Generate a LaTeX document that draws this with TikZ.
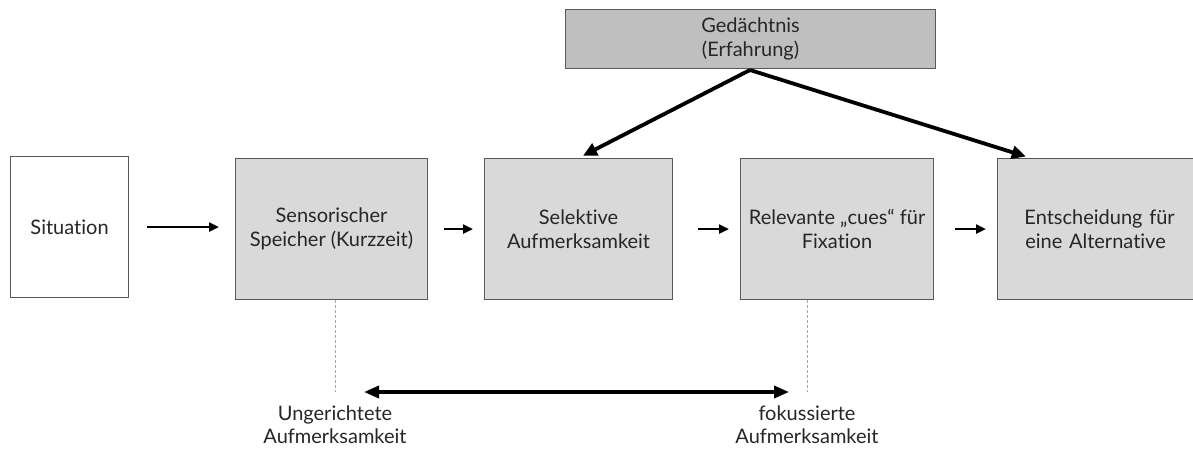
\documentclass[tikz,border=0pt]{standalone}
\usepackage{fontspec}
\setmainfont{Lato}[Ligatures=NoCommon]
\usetikzlibrary{arrows.meta}
\definecolor{boxfill}{HTML}{D9D9D9}
\definecolor{memfill}{HTML}{BFBFBF}
\definecolor{boxline}{HTML}{595959}
\definecolor{txt}{HTML}{262626}
\definecolor{guide}{HTML}{A6A6A6}
\begin{document}
\begin{tikzpicture}[x=1pt,y=-1pt,
  base/.style={draw=boxline, line width=1.1pt, align=center, inner sep=0pt,
    anchor=north west, text=txt, font=\fontsize{20}{24}\selectfont},
  stage/.style={base, fill=boxfill, minimum height=141pt},
  flow/.style={line width=2.8pt, -{Triangle[length=10pt,width=9pt]}},
  recall/.style={line width=3.8pt, -{Triangle[length=14pt,width=13pt]}},
  span/.style={line width=3.4pt, {Triangle[length=15pt,width=12pt]}-{Triangle[length=15pt,width=12pt]}},
  guideline/.style={draw=guide, line width=0.9pt, dashed, dash pattern=on 3pt off 2pt},
  caption/.style={align=center, text=txt, font=\fontsize{20}{23}\selectfont}]
\useasboundingbox (0,0) rectangle (1193,450);

% memory box on top
\node[base, fill=memfill, minimum width=370pt, minimum height=59pt] (ged) at (565,9)
  {Gedächtnis\\(Erfahrung)};

% process chain
\node[base, fill=white, minimum width=118pt, minimum height=141pt] (sit) at (10,156) {Situation};
\node[stage, minimum width=192pt] (sen) at (235,158) {Sensorischer\\Speicher (Kurzzeit)};
\node[stage, minimum width=188pt] (sel) at (484,158) {Selektive\\Aufmerksamkeit};
\node[stage, minimum width=193pt] (rel) at (740,158) {Relevante „cues“ für\\Fixation};
\node[stage, minimum width=204pt, text width=196pt] (ent) at (997,158) {Entscheidung für\\eine Alternative\hspace*{8pt}};

\draw[flow, shorten <=18pt, shorten >=16pt] (sit) -- (sit -| sen.west);
\draw[flow, shorten <=16pt, shorten >=11pt] (sen.east) -- (sel.west);
\draw[flow, shorten <=25pt, shorten >=11pt] (sel.east) -- (rel.west);
\draw[flow, shorten <=21pt, shorten >=11pt] (rel.east) -- (ent.west);

% memory feeds attention and decision
\coordinate (apex) at (750,70);
\draw[recall, shorten >=5pt] (apex) -- (sel.north);
\draw[recall, shorten >=5pt] (apex) -- ([xshift=-69pt]ent.north);

% attention range
\node[caption, anchor=north] (ung) at (335,402) {Ungerichtete\\Aufmerksamkeit};
\node[caption, anchor=north] (fok) at (807,402) {fokussierte\\Aufmerksamkeit};
\coordinate (u) at (335,392);
\coordinate (f) at (807,392);
\draw[guideline] (sen.south -| u) -- (u);
\draw[guideline] (rel.south -| f) -- (f);
\draw[span, shorten <=29pt, shorten >=18pt] (u) -- (f);
\end{tikzpicture}
\end{document}
